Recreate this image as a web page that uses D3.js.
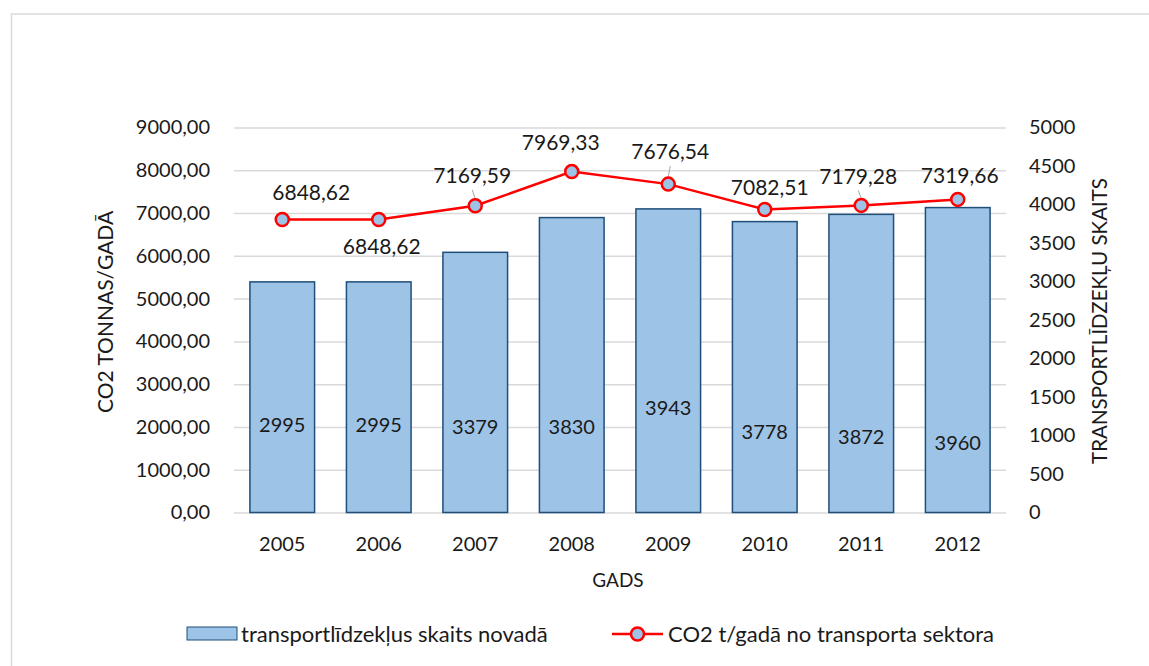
<!DOCTYPE html>
<html>
<head>
<meta charset="utf-8">
<script src="https://cdn.jsdelivr.net/npm/d3@7"></script>
<style>
    body { margin: 0; background: #fff; }
    svg text { font-family: Lato, "Open Sans", sans-serif; fill: #1a1a1a; }
</style>
</head>
<body>
<svg id="chart" width="1149" height="666"></svg>
<script>
// DATA
const years = ["2005", "2006", "2007", "2008", "2009", "2010", "2011", "2012"];
const vehicleCounts = [2995, 2995, 3379, 3830, 3943, 3778, 3872, 3960];
const co2Tonnes = [6848.62, 6848.62, 7169.59, 7969.33, 7676.54, 7082.51, 7179.28, 7319.66];
const leftTicks = [0, 1000, 2000, 3000, 4000, 5000, 6000, 7000, 8000, 9000];
const rightTicks = [0, 500, 1000, 1500, 2000, 2500, 3000, 3500, 4000, 4500, 5000];

const barName = "transportlīdzekļus skaits novadā";
const lineName = "CO2 t/gadā no transporta sektora";

// label placement tweaks (layout, not data)
const lineLabelNudge = [[29, -27], [3, 27], [-3, -30], [-11, -29], [2, -32], [5, -22], [-3, -29], [2, -24]];
const leaderLines = [false, false, true, false, true, false, true, false];
const barLabelNudge = [0, 0, 2, 2, -17, 7, 12, 18];

// SETUP
const svg = d3.select("#chart");
const margin = {top: 127.5, right: 143, bottom: 153.5, left: 234};
const W = 1149, H = 666;
const plotRight = W - margin.right, plotBottom = H - margin.bottom;

const lv = d3.formatLocale({decimal: ",", thousands: "", grouping: [3], currency: ["", ""]});
const fmt2 = lv.format(".2f");

// outer frame
svg.append("rect")
    .attr("x", 11.5).attr("y", 14)
    .attr("width", W).attr("height", H)
    .attr("fill", "none").attr("stroke", "#d9d9d9").attr("stroke-width", 1.5);

const x = d3.scaleBand().domain(years).range([margin.left, plotRight])
    .paddingInner(0.33).paddingOuter(0.165);
const yL = d3.scaleLinear().domain([0, 9000]).range([plotBottom, margin.top]);
const yR = d3.scaleLinear().domain([0, 5000]).range([plotBottom, margin.top]);

// gridlines
svg.append("g")
    .attr("transform", "translate(" + margin.left + ",0)")
    .call(d3.axisLeft(yL).tickValues(leftTicks).tickSize(-(plotRight - margin.left)).tickFormat(""))
    .call(g => g.select(".domain").remove())
    .call(g => g.selectAll("line").attr("stroke", "#d9d9d9").attr("stroke-width", 1.5));

// left axis labels
svg.append("g")
    .attr("transform", "translate(" + (margin.left - 24) + ",0)")
    .call(d3.axisLeft(yL).tickValues(leftTicks).tickSize(0).tickFormat(fmt2))
    .call(g => g.select(".domain").remove())
    .call(g => g.selectAll("text").attr("font-size", 20).attr("x", 0));

// right axis labels
svg.append("g")
    .attr("transform", "translate(" + (plotRight + 23) + ",0)")
    .call(d3.axisRight(yR).tickValues(rightTicks).tickSize(0).tickFormat(d3.format("d")))
    .call(g => g.select(".domain").remove())
    .call(g => g.selectAll("text").attr("font-size", 20).attr("x", 0));

// x axis labels
svg.append("g")
    .attr("transform", "translate(0," + plotBottom + ")")
    .call(d3.axisBottom(x).tickSize(0))
    .call(g => g.select(".domain").remove())
    .call(g => g.selectAll("text").attr("font-size", 20).attr("y", 24));

// bars
svg.selectAll(".bar")
    .data(vehicleCounts)
    .enter().append("rect")
    .attr("class", "bar")
    .attr("x", (d, i) => x(years[i]))
    .attr("y", d => yR(d))
    .attr("width", x.bandwidth())
    .attr("height", d => plotBottom - yR(d))
    .attr("fill", "#9dc3e6")
    .attr("stroke", "#1f4e79")
    .attr("stroke-width", 1.5);

// bar value labels
svg.selectAll(".bar-label")
    .data(vehicleCounts)
    .enter().append("text")
    .attr("class", "bar-label")
    .attr("x", (d, i) => x(years[i]) + x.bandwidth() / 2)
    .attr("y", (d, i) => yR(1140) + barLabelNudge[i])
    .attr("dy", "0.35em")
    .attr("text-anchor", "middle")
    .attr("font-size", 20)
    .text(d => d);

// line
const cx = i => x(years[i]) + x.bandwidth() / 2;
const line = d3.line().x((d, i) => cx(i)).y(d => yL(d));

svg.append("path")
    .datum(co2Tonnes)
    .attr("d", line)
    .attr("fill", "none")
    .attr("stroke", "#ff0000")
    .attr("stroke-width", 2.5);

// leader lines
svg.selectAll(".leader")
    .data(co2Tonnes.map((d, i) => [d, i]).filter(p => leaderLines[p[1]]))
    .enter().append("line")
    .attr("class", "leader")
    .attr("x1", p => cx(p[1]) + lineLabelNudge[p[1]][0])
    .attr("x2", p => cx(p[1]))
    .attr("y1", p => yL(p[0]) + lineLabelNudge[p[1]][1] + 14)
    .attr("y2", p => yL(p[0]) - 7)
    .attr("stroke", "#a6a6a6").attr("stroke-width", 1);

svg.selectAll(".pt")
    .data(co2Tonnes)
    .enter().append("circle")
    .attr("class", "pt")
    .attr("cx", (d, i) => cx(i))
    .attr("cy", d => yL(d))
    .attr("r", 6.5)
    .attr("fill", "#9dc3e6")
    .attr("stroke", "#ff0000")
    .attr("stroke-width", 2.5);

svg.selectAll(".pt-label")
    .data(co2Tonnes)
    .enter().append("text")
    .attr("class", "pt-label")
    .attr("x", (d, i) => cx(i) + lineLabelNudge[i][0])
    .attr("y", (d, i) => yL(d) + lineLabelNudge[i][1])
    .attr("dy", "0.35em")
    .attr("text-anchor", "middle")
    .attr("font-size", 21)
    .text(d => fmt2(d));

// axis titles
svg.append("text")
    .attr("transform", "translate(106,312) rotate(-90)")
    .attr("text-anchor", "middle")
    .attr("dy", "0.35em")
    .attr("font-size", 21)
    .text("CO2  TONNAS/GADĀ");

svg.append("text")
    .attr("transform", "translate(1100,321) rotate(-90)")
    .attr("text-anchor", "middle")
    .attr("dy", "0.35em")
    .attr("font-size", 20.5)
    .text("TRANSPORTLĪDZEKĻU SKAITS");

svg.append("text")
    .attr("x", 618).attr("y", 580)
    .attr("text-anchor", "middle")
    .attr("dy", "0.35em")
    .attr("font-size", 19)
    .text("GADS");

// legend
const legend = svg.append("g");
legend.append("rect")
    .attr("x", 187).attr("y", 627).attr("width", 50).attr("height", 13)
    .attr("fill", "#9dc3e6").attr("stroke", "#1f4e79").attr("stroke-width", 1);
legend.append("text")
    .attr("x", 241).attr("y", 634).attr("dy", "0.35em")
    .attr("font-size", 22)
    .text(barName);
legend.append("line")
    .attr("x1", 612).attr("x2", 663).attr("y1", 634).attr("y2", 634)
    .attr("stroke", "#ff0000").attr("stroke-width", 2.5);
legend.append("circle")
    .attr("cx", 637.5).attr("cy", 634).attr("r", 6.5)
    .attr("fill", "#9dc3e6").attr("stroke", "#ff0000").attr("stroke-width", 2.5);
legend.append("text")
    .attr("x", 668).attr("y", 634).attr("dy", "0.35em")
    .attr("font-size", 22)
    .text(lineName);
</script>
</body>
</html>
